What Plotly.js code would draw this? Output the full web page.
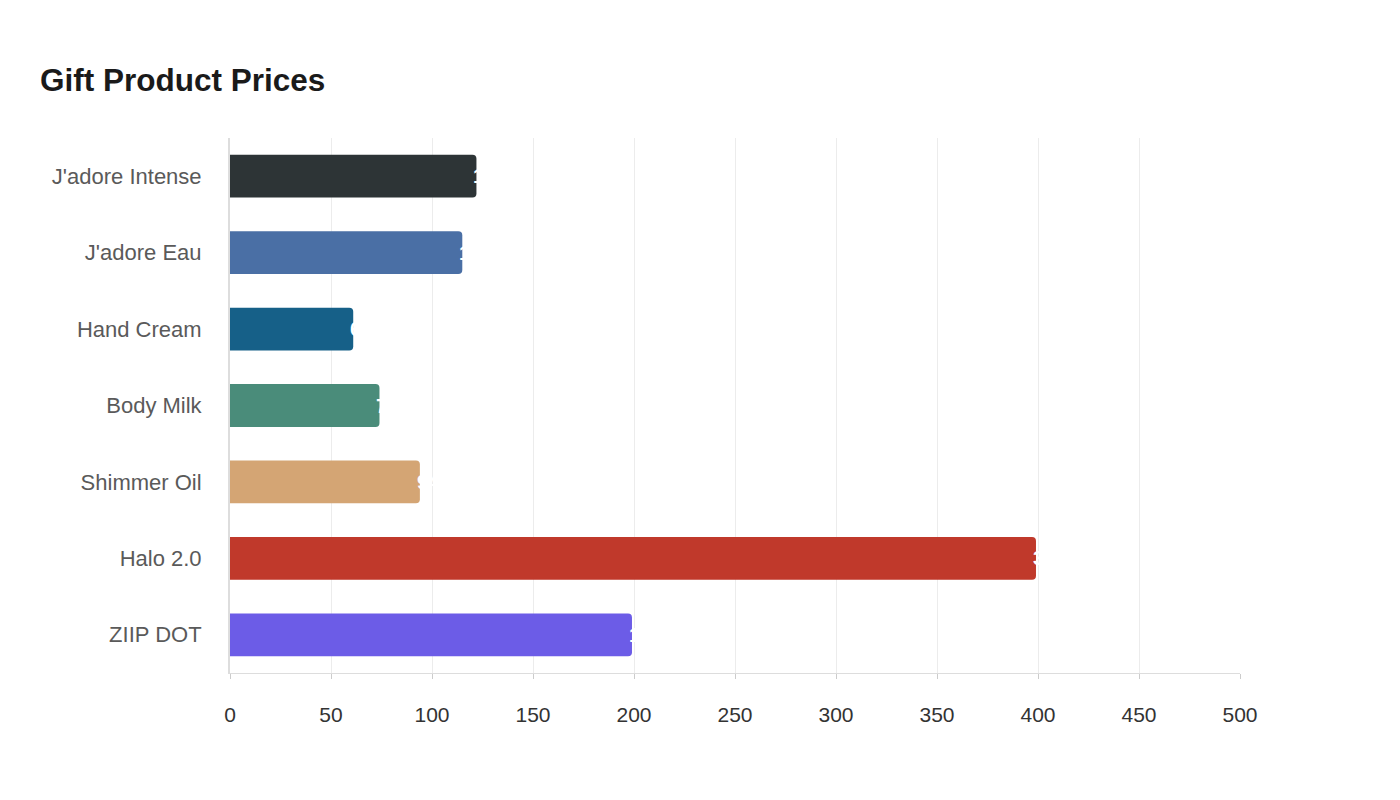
<!DOCTYPE html>
<html>
<head>
<meta charset="utf-8">
<script src="https://cdn.plot.ly/plotly-3.0.1.min.js"></script>
<style>html,body{margin:0;padding:0;background:#fff;}#chart{width:1400px;height:800px;}</style>
</head>
<body>
<div id="chart"></div>
<script>
const products = ["J'adore Intense", "J'adore Eau", "Hand Cream", "Body Milk", "Shimmer Oil", "Halo 2.0", "ZIIP DOT"];
const prices = [122, 115, 61, 74, 94, 399, 199];
const colors = ["#2d3436", "#4a6fa5", "#166088", "#4a8c7a", "#d4a574", "#c0392b", "#6c5ce7"];
const xTicks = [0, 50, 100, 150, 200, 250, 300, 350, 400, 450, 500];

const trace = {
  type: 'bar',
  orientation: 'h',
  y: products,
  x: prices,
  marker: {color: colors, cornerradius: 4},
  width: 0.56,
  hoverinfo: 'x+y'
};

const annotations = products.map((p, i) => ({
  x: prices[i], y: p, xref: 'x', yref: 'y',
  text: String(prices[i]), showarrow: false,
  xanchor: 'left', yanchor: 'middle', xshift: -5,
  font: {family: 'Liberation Sans, Arial, sans-serif', size: 20, color: '#ffffff', weight: 'bold'}
}));

const layout = {
  width: 1400, height: 800,
  paper_bgcolor: '#ffffff', plot_bgcolor: '#ffffff',
  margin: {l: 230, r: 160, t: 138, b: 127},
  title: {text: '<b>Gift Product Prices</b>', x: 40/1400, xanchor: 'left', xref: 'container', y: 1 - 80/800, yref: 'container', yanchor: 'middle',
    font: {family: 'Liberation Sans, Arial, sans-serif', size: 31.5, color: '#1a1a1a'}},
  showlegend: false,
  xaxis: {
    range: [0, 500], tickvals: xTicks, ticktext: xTicks.map(String),
    showgrid: true, gridcolor: '#ececec', gridwidth: 1,
    zeroline: false, showline: true, linecolor: '#dddddd', linewidth: 1,
    ticks: 'outside', ticklen: 5, tickcolor: '#cccccc',
    tickfont: {family: 'Liberation Sans, Arial, sans-serif', size: 21, color: '#333333'},
    ticklabelstandoff: 18, fixedrange: true
  },
  yaxis: {
    autorange: 'reversed', categoryorder: 'array', categoryarray: products,
    showgrid: false, zeroline: false, showline: true, linecolor: '#dddddd', linewidth: 2,
    ticks: '', ticklabelstandoff: 22,
    tickfont: {family: 'Liberation Sans, Arial, sans-serif', size: 22, color: '#5a5a5a'},
    fixedrange: true
  },
  annotations: annotations
};

Plotly.newPlot('chart', [trace], layout, {displayModeBar: false, staticPlot: true});
</script>
</body>
</html>
